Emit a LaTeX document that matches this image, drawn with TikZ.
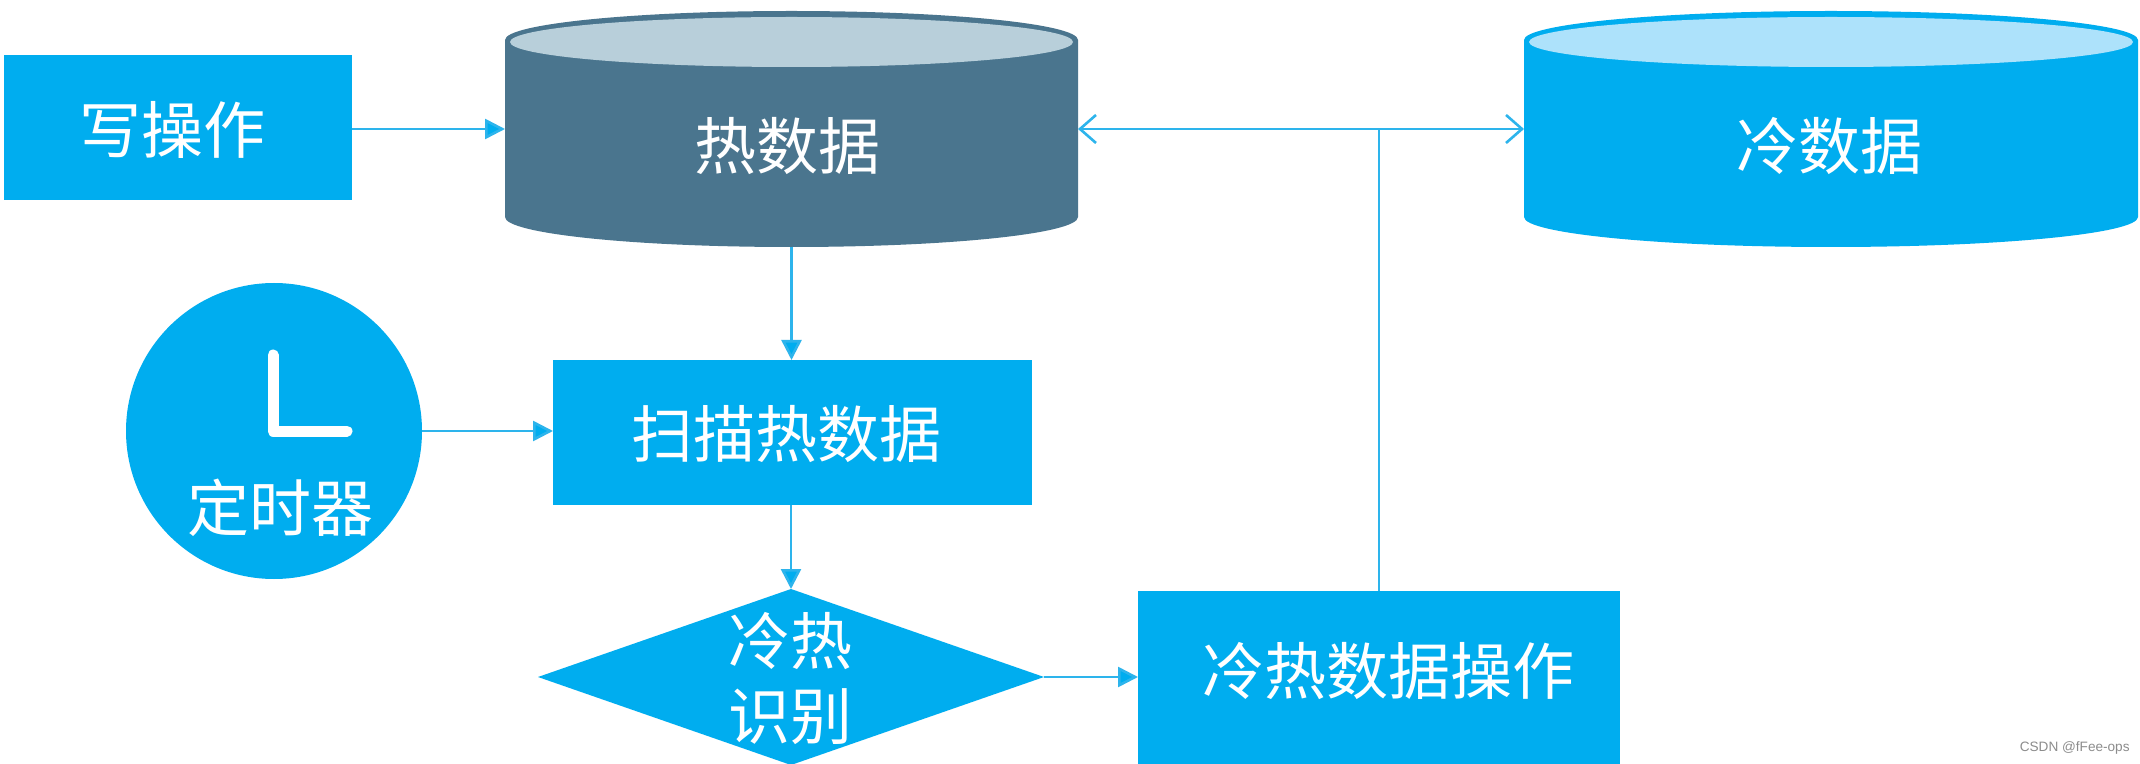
\documentclass[tikz,border=0pt]{standalone}
\usepackage{fontspec}
\setmainfont{Noto Sans CJK SC}
\newfontfamily\wmfont{Liberation Sans}
\usetikzlibrary{arrows.meta,shapes.geometric}
\definecolor{skyfill}{HTML}{00ADEF}
\definecolor{hotfill}{HTML}{4A758E}
\definecolor{hottop}{HTML}{B8CFDA}
\definecolor{coldtop}{HTML}{ADE2FB}
\definecolor{linkblue}{HTML}{2DB4EC}
\tikzset{
  px/.style={x=0.5pt,y=-0.5pt},
  boxnode/.style={fill=skyfill,draw=none,inner sep=0pt,outer sep=0pt},
  anchorbox/.style={draw=none,fill=none,inner sep=0pt,outer sep=0pt},
  lbl/.style={text=white,font=\fontsize{31}{34}\selectfont,inner sep=0pt},
  solidlink/.style={draw=linkblue,line width=1.3pt,-{Triangle[length=10pt,width=10pt,fill=skyfill]}},
  openlink/.style={draw=linkblue,line width=1.3pt,-{Straight Barb[length=8pt,width=14pt]}},
  plainlink/.style={draw=linkblue,line width=1.3pt}
}
\newcommand{\drum}[5]{% x-left, x-right, body colour, top colour, name
  \pgfmathsetmacro{\cxx}{(#1+#2)/2}
  \pgfmathsetmacro{\rxx}{(#2-#1)/2}
  \pgfmathsetmacro{\ixx}{(#2-#1)/2-5}
  \fill[#3] (#1,40) arc[start angle=180,end angle=0,x radius=\rxx,y radius=-29]
    -- (#2,217) arc[start angle=0,end angle=-180,x radius=\rxx,y radius=-30] -- cycle;
  \fill[#4] (\cxx,42) ellipse[x radius=\ixx,y radius=25];
  \node[anchorbox,minimum width=#2*0.5pt-#1*0.5pt,minimum height=118pt] (#5) at (\cxx,129) {};
}
\begin{document}
\begin{tikzpicture}[px]
\useasboundingbox (0,0) rectangle (2140,764);
\clip (0,0) rectangle (2140,764);
\fill[white] (0,0) rectangle (2140,764);

\drum{505}{1078}{hotfill}{hottop}{hot}
\drum{1524}{2138}{skyfill}{coldtop}{cold}
\node[lbl] (hotlabel) at (787,146) {热数据};
\node[lbl] (coldlabel) at (1829,146) {冷数据};

\node[boxnode,minimum width=174pt,minimum height=72.5pt] (write) at (178,127.5) {};
\node[lbl] (writelabel) at (172,130) {写操作};

\node[boxnode,minimum width=239.5pt,minimum height=72.5pt] (scan) at (792.5,432.5) {};
\node[lbl] (scanlabel) at (786,434) {扫描热数据};

\node[circle,boxnode,minimum size=148pt] (timer) at (274,431) {};
\draw[white,line width=5.5pt,line cap=round,line join=round] (273,355) -- (273,431) -- (347,431);
\node[lbl] (timerlabel) at (280,508) {定时器};

\node[diamond,boxnode,aspect=2.875,minimum width=253pt,minimum height=88pt] (judge) at (791,677) {};
\node[lbl] (judgea) at (790,641) {冷热};
\node[lbl] (judgeb) at (790,717) {识别};

\node[boxnode,minimum width=241pt,minimum height=87pt] (oper) at (1379,678) {};
\node[lbl] (operlabel) at (1388,671) {冷热数据操作};

\coordinate (junction) at (1379,129);

\draw[solidlink] (write.east |- hot.west) -- (hot.west);
\draw[solidlink] (hot.south) -- (scan.north -| hot.south);
\draw[solidlink] (timer.east) -- (scan.west |- timer.east);
\draw[solidlink] (scan.south -| judge.north) -- (judge.north);
\draw[solidlink] (judge.east) -- (oper.west |- judge.east);
\draw[plainlink] (oper.north) -- (junction);
\draw[openlink] (junction) -- (hot.east);
\draw[openlink] (junction) -- (cold.west);

\node[text=black!45,font=\wmfont\fontsize{6.8}{8}\selectfont,inner sep=0pt,anchor=east] (mark) at (2130,748) {CSDN @fFee-ops};
\end{tikzpicture}
\end{document}
